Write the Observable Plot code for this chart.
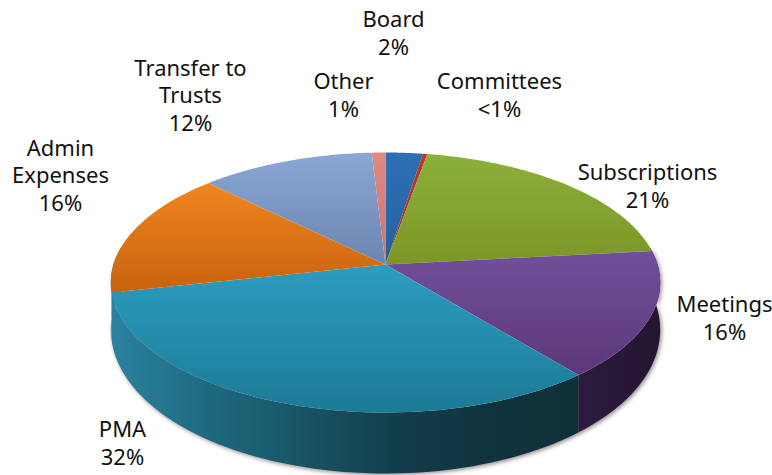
<!DOCTYPE html>
<html>
<head>
<meta charset="utf-8">
<script src="https://cdn.jsdelivr.net/npm/d3@7"></script>
<script src="https://cdn.jsdelivr.net/npm/@observablehq/plot@0.6"></script>
<style>
html,body{margin:0;padding:0;background:#fff}
svg{display:block}
</style>
</head>
<body>
<div id="chart"></div>
<script>
const categories = ["Board","Committees","Subscriptions","Meetings","PMA","Admin Expenses","Transfer to Trusts","Other"];
const shares = [2.5,0.3,20.5,15.8,32.5,15.75,11.75,0.92];
const percentLabels = ["2%","<1%","21%","16%","32%","16%","12%","1%"];
const labelLines = ["Board","Committees","Subscriptions","Meetings","PMA","Admin\nExpenses","Transfer to\nTrusts","Other"];

const topColors = ["#2f70b6","#b8392c","#8cb03c","#71509b","#2c9dc0","#f0861f","#8aa7d6","#de8a84"];
const bottomColors = ["#25609c","#a03024","#7c9626","#5c3779","#1c7a96","#c8620e","#6b85ad","#c9736e"];
const wallStops = [
  ["#1f4f80","#1f4f80"],["#5c1c16","#5c1c16"],["#46561a","#46561a"],
  ["#2c1b3e","#241530"],["#2b82a0","#1f6a80","#185566","#133f4c","#10343e","#0f3039"],
  ["#2b82a0","#2b82a0"],["#4c5f80","#4c5f80"],["#8a4a48","#8a4a48"]
];

// pie geometry: a tilted disc seen in perspective
const cx = 385, cy = 264, A = 272, B = 127.5, k = 0.1385;
const project = (t) => {
  const u = -Math.cos(t), v = Math.sin(t), w = 1 - k * u;
  return {x: cx + A * v / w, y: cy + B * u / w, u};
};
const depth = (u) => 45 + 16 * u;
const arcPts = (t0, t1) => d3.range(0, 61).map(i => project(t0 + (t1 - t0) * i / 60));

const total = d3.sum(shares);
let acc = 0;
const slices = shares.map((s, i) => {
  const t0 = acc / total * 2 * Math.PI;
  acc += s;
  return {i, t0, t1: acc / total * 2 * Math.PI};
});
const centre = {x: cx, y: cy};
const silhouette0 = Math.PI / 2 - Math.asin(k), silhouette1 = 3 * Math.PI / 2 + Math.asin(k);

const faces = slices.map(s => [centre, ...arcPts(s.t0, s.t1)]);
const walls = slices.map(s => {
  const a = Math.max(s.t0, silhouette0), b = Math.min(s.t1, silhouette1);
  if (b <= a) return null;
  const top = arcPts(a, b);
  const bottom = top.map(p => ({x: p.x, y: p.y + depth(p.u)})).reverse();
  return [...top, ...bottom];
});
const outline = (() => {
  const top = arcPts(silhouette0, silhouette1);
  return [...top, ...top.map(p => ({x: p.x, y: p.y + depth(p.u)})).reverse()];
})();

const defs = () => {
  const d = d3.create("svg:defs");
  topColors.forEach((c, i) => {
    const g = d.append("linearGradient").attr("id", "face" + i).attr("x1", 0).attr("y1", 0).attr("x2", 0).attr("y2", 1);
    g.append("stop").attr("offset", 0).attr("stop-color", c);
    g.append("stop").attr("offset", 1).attr("stop-color", bottomColors[i]);
  });
  wallStops.forEach((st, i) => {
    const g = d.append("linearGradient").attr("id", "wall" + i).attr("x1", 0).attr("y1", 0).attr("x2", 1).attr("y2", 0);
    st.forEach((c, j) => g.append("stop").attr("offset", j / (st.length - 1)).attr("stop-color", c));
  });
  d.append("filter").attr("id", "soft").attr("x", "-5%").attr("y", "-10%").attr("width", "110%").attr("height", "120%")
    .append("feGaussianBlur").attr("stdDeviation", 2.2);
  return d.node();
};

const soft = (index, scales, values, dims, context, next) => {
  const g = next(index, scales, values, dims, context);
  g.setAttribute("filter", "url(#soft)");
  g.setAttribute("transform", "translate(2,2)");
  return g;
};

// label anchor points (centre of text block)
const labelX = [393,499,647,724,122,60,190,343];
const labelY = [32,94,185,317,442,174,94,94];
const labelText = labelLines.map((l, i) => l + "\n" + percentLabels[i]);
const labelRows = labelText.map((text, i) => ({text, x: labelX[i], y: labelY[i]}));

const chart = Plot.plot({
  width: 772, height: 475,
  margin: 0,
  x: {domain: [0, 772], range: [0, 772], axis: null},
  y: {domain: [0, 475], range: [0, 475], axis: null},
  style: {background: "#fff"},
  marks: [
    defs,
    Plot.line(outline, {x: "x", y: "y", fill: "#6b5f66", fillOpacity: 0.75, stroke: "none", render: soft}),
    ...walls.map((w, i) => w ? Plot.line(w, {x: "x", y: "y", fill: `url(#wall${i})`, stroke: "none"}) : null).filter(Boolean),
    ...faces.map((f, i) => Plot.line(f, {x: "x", y: "y", fill: `url(#face${i})`, stroke: "none"})),
    Plot.text(labelRows, {
      x: "x", y: "y", text: "text",
      fontFamily: "'Noto Sans'", fontSize: 22, lineHeight: 1.27,
      fill: "#111", textAnchor: "middle", lineAnchor: "middle"
    })
  ]
});
document.getElementById("chart").append(chart);
</script>
</body>
</html>
